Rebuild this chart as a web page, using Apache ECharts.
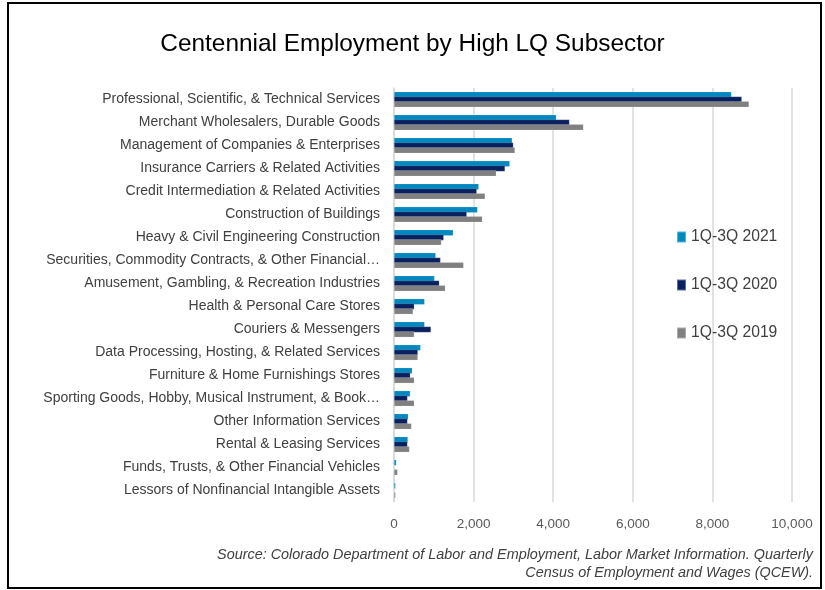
<!DOCTYPE html>
<html>
<head>
<meta charset="utf-8">
<script src="https://cdn.jsdelivr.net/npm/echarts@6/dist/echarts.min.js"></script>
<style>
	html, body { margin: 0; padding: 0; background: #fff; }
	#chart { width: 825px; height: 590px; }
</style>
</head>
<body>
<div id="chart"></div>
<script>
var subsectors = [
	'Professional, Scientific, & Technical Services',
	'Merchant Wholesalers, Durable Goods',
	'Management of Companies & Enterprises',
	'Insurance Carriers & Related Activities',
	'Credit Intermediation & Related Activities',
	'Construction of Buildings',
	'Heavy & Civil Engineering Construction',
	'Securities, Commodity Contracts, & Other Financial…',
	'Amusement, Gambling, & Recreation Industries',
	'Health & Personal Care Stores',
	'Couriers & Messengers',
	'Data Processing, Hosting, & Related Services',
	'Furniture & Home Furnishings Stores',
	'Sporting Goods, Hobby, Musical Instrument, & Book…',
	'Other Information Services',
	'Rental & Leasing Services',
	'Funds, Trusts, & Other Financial Vehicles',
	'Lessors of Nonfinancial Intangible Assets'
];
var seriesNames = [ '1Q-3Q 2021', '1Q-3Q 2020', '1Q-3Q 2019' ];
var emp2021 = [ 8480, 4080, 2970, 2910, 2130, 2100, 1490, 1050, 1020, 770, 770, 670, 460, 410, 360, 350, 60, 40 ];
var emp2020 = [ 8740, 4410, 3000, 2790, 2080, 1830, 1250, 1170, 1140, 510, 930, 600, 410, 340, 340, 340, 10, 5 ];
var emp2019 = [ 8920, 4760, 3040, 2570, 2290, 2220, 1190, 1750, 1290, 480, 510, 600, 510, 510, 440, 390, 90, 40 ];
var xTicks = { min: 0, max: 10000, interval: 2000 };
var sourceLines = [
	'Source: Colorado Department of Labor and Employment, Labor Market Information. Quarterly',
	'Census of Employment and Wages (QCEW).'
];

var chart = echarts.init(document.getElementById('chart'));
var colors = [ '#0088BF', '#0A2160', '#808080' ];
var font = 'Liberation Sans';

function barSeries(i, data) {
	return {
		type : 'bar',
		name : seriesNames[i],
		data : data,
		barWidth : 6,
		barGap : '-20%',
		itemStyle : {
			color : colors[i],
			borderColor : 'rgba(255,255,255,0.35)',
			borderWidth : 0.5
		},
		z : 2 + i
	};
}

function sourceText(line, top) {
	return {
		type : 'text',
		right : 12,
		top : top,
		style : {
			text : line,
			fontFamily : font,
			fontSize : 14.4,
			fontStyle : 'italic',
			fill : '#404040'
		},
		silent : true
	};
}

chart.setOption({
	animation : false,
	textStyle : { fontFamily : font },
	title : {
		text : 'Centennial Employment by High LQ Subsector',
		left : 'center',
		top : 27,
		textStyle : { fontFamily : font, fontSize : 24.4, fontWeight : 'normal', color : '#000' }
	},
	legend : {
		orient : 'vertical',
		left : 671,
		top : 224,
		itemGap : 32,
		itemWidth : 9,
		itemHeight : 11,
		icon : 'rect',
		data : seriesNames,
		textStyle : { fontFamily : font, fontSize : 15.7, color : '#404040', padding : [ 0, 0, 0, 0 ] }
	},
	grid : {
		left : 394,
		right : 33,
		top : 88,
		bottom : 88,
		containLabel : false
	},
	xAxis : {
		type : 'value',
		min : xTicks.min,
		max : xTicks.max,
		interval : xTicks.interval,
		axisLine : { show : false },
		axisTick : { show : false },
		axisLabel : {
			fontFamily : font,
			fontSize : 13.5,
			color : '#595959',
			margin : 15,
			formatter : function(v) { return v.toLocaleString('en-US'); }
		},
		splitLine : { lineStyle : { color : '#D9D9D9', width : 1.5 } }
	},
	yAxis : {
		type : 'category',
		inverse : true,
		data : subsectors,
		axisLine : { lineStyle : { color : '#D9D9D9', width : 1.5 } },
		axisTick : { show : false },
		axisLabel : {
			fontFamily : font,
			fontSize : 14,
			color : '#404040',
			margin : 14
		}
	},
	series : [ barSeries(0, emp2021), barSeries(1, emp2020), barSeries(2, emp2019) ],
	graphic : [ {
		type : 'rect',
		shape : { x : 8, y : 3, width : 813, height : 585 },
		style : { fill : 'none', stroke : '#000', lineWidth : 2 },
		silent : true
	}, sourceText(sourceLines[0], 548), sourceText(sourceLines[1], 566) ]
});

window.onresize = function() {
	chart.resize();
}
</script>
</body>
</html>
